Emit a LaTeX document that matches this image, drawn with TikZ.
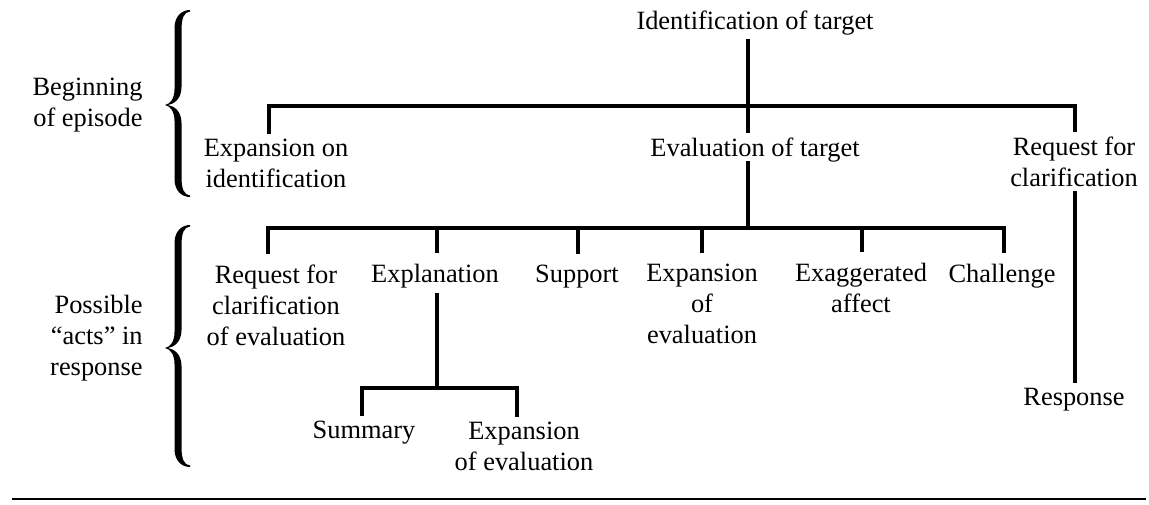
\documentclass[tikz,border=0pt]{standalone}
\usepackage{fontspec}
\setmainfont{Liberation Serif}
\newcommand\drawbrace[4]{% #1 stem x, #2 top y, #3 tip y, #4 bottom y
\fill ({#1+12},{#2}) .. controls ({#1+4},{#2}) and ({#1-3.5},{#2+6}) .. ({#1-3.5},{#2+18})
 -- ({#1-3.5},{#3-16}) .. controls ({#1-3.5},{#3-6}) and ({#1-8},{#3-1}) .. ({#1-13},{#3})
 .. controls ({#1-8},{#3+1}) and ({#1-3.5},{#3+6}) .. ({#1-3.5},{#3+16})
 -- ({#1-3.5},{#4-18}) .. controls ({#1-3.5},{#4-6}) and ({#1+4},{#4}) .. ({#1+12},{#4})
 -- ({#1+12},{#4-1.5}) .. controls ({#1+6},{#4-2}) and ({#1+3.5},{#4-8}) .. ({#1+3.5},{#4-20})
 -- ({#1+3.5},{#3+18}) .. controls ({#1+3.5},{#3+6}) and ({#1-4},{#3+1}) .. ({#1-10},{#3})
 .. controls ({#1-4},{#3-1}) and ({#1+3.5},{#3-6}) .. ({#1+3.5},{#3-18})
 -- ({#1+3.5},{#2+20}) .. controls ({#1+3.5},{#2+8}) and ({#1+6},{#2+2}) .. ({#1+12},{#2+1.5}) -- cycle;
}
\begin{document}
\begin{tikzpicture}[x=0.5pt,y=-0.5pt,
  every node/.style={font=\fontsize{13.2}{15.5}\selectfont},
  lab/.style={inner xsep=0pt, inner ysep=2pt, align=center, anchor=base},
  tall/.style={lab, inner ysep=5pt},
  side/.style={inner sep=0pt, align=right, anchor=base east},
  edge/.style={line width=1.6pt}]
\useasboundingbox (0,0) rectangle (1149,504);

% braces and side labels (anchor = baseline of last line)
\drawbrace{178}{10}{105}{197}
\drawbrace{178}{225}{348}{467}
\node[side] (beg) at (143,126) {Beginning\\of episode};
\node[side] (pos) at (143,375) {Possible\\“acts” in\\response};

% nodes
\node[lab] (ident) at (755,29) {Identification of target};
\node[lab] (expid) at (276,187) {Expansion on\\identification};
\node[lab] (evalt) at (755,156) {Evaluation of target};
\node[lab] (reqc) at (1074,186) {Request for\\clarification};
\node[tall] (reqce) at (276,345) {Request for\\clarification\\of evaluation};
\node[tall] (expl) at (435,282) {Explanation};
\node[tall] (supp) at (577,282) {Support};
\node[tall] (expe) at (702,343) {Expansion\\of\\evaluation};
\node[tall] (exag) at (861,312) {Exaggerated\\affect};
\node[tall] (chal) at (1002,282) {Challenge};
\node[lab] (resp) at (1074,405) {Response};
\node[lab] (summ) at (364,438) {Summary};
\node[lab] (expe2) at (524,470) {Expansion\\of evaluation};

% junction coordinates
\coordinate (a1) at (269,106);
\coordinate (a2) at (748,106);
\coordinate (a3) at (1075,106);
\coordinate (c1) at (268,228);
\coordinate (c2) at (437,228);
\coordinate (c3) at (578,228);
\coordinate (c4) at (702,228);
\coordinate (c5) at (862,228);
\coordinate (c6) at (1004,228);
\coordinate (cm) at (748,228);
\coordinate (e1) at (362,388);
\coordinate (e2) at (517,388);
\coordinate (em) at (437,388);

% connectors
\draw[edge] (expid.north -| a1) -- (a1) -- (a3) -- (reqc.north -| a3);
\draw[edge] (ident.south -| a2) -- (evalt.north -| a2);
\draw[edge, shorten <=-2.5pt] (evalt.south -| cm) -- (cm);
\draw[edge] (reqce.north -| c1) -- (c1) -- (c6) -- (chal.north -| c6);
\draw[edge] (c2) -- (expl.north -| c2);
\draw[edge] (c3) -- (supp.north -| c3);
\draw[edge] (c4) -- (expe.north -| c4);
\draw[edge] (c5) -- (exag.north -| c5);
\draw[edge, shorten <=-2.5pt] (expl.south -| em) -- (em);
\draw[edge] (summ.north -| e1) -- (e1) -- (e2) -- (expe2.north -| e2);
\draw[edge] (reqc.south -| a3) -- (resp.north -| a3);

% bottom rule
\draw[line width=0.9pt] (12,499) -- (1146,499);
\end{tikzpicture}
\end{document}
